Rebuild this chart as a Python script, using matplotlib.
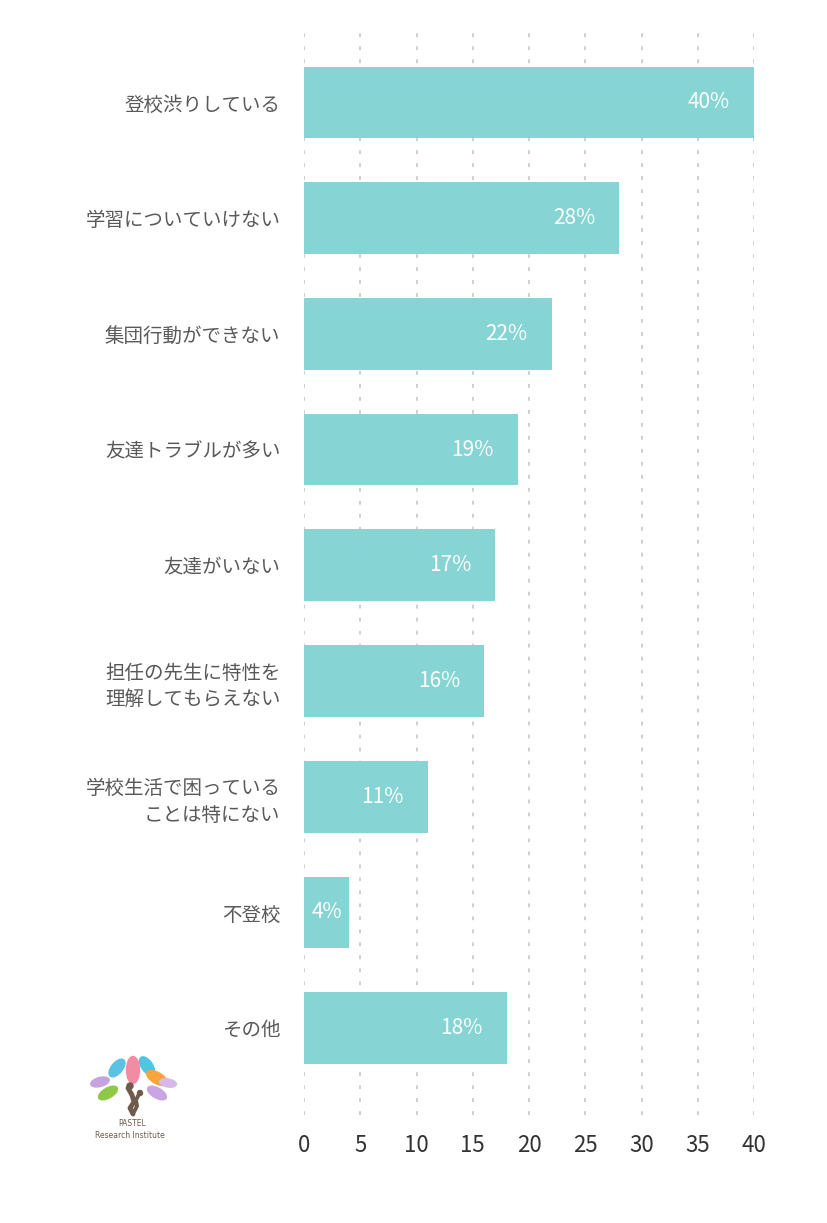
import matplotlib.pyplot as plt
from matplotlib.patches import Ellipse, Circle

plt.rcParams['font.family'] = ['Noto Sans CJK JP', 'DejaVu Sans']

# data
categories = ['登校渋りしている', '学習についていけない', '集団行動ができない',
              '友達トラブルが多い', '友達がいない', '担任の先生に特性を\n理解してもらえない',
              '学校生活で困っている\nことは特にない', '不登校', 'その他']
values = [40, 28, 22, 19, 17, 16, 11, 4, 18]
xticks = [0, 5, 10, 15, 20, 25, 30, 35, 40]

bar_color = '#86d4d4'
text_gray = '#595959'

fig = plt.figure(figsize=(8.28, 12.23), dpi=100)
ax = fig.add_axes([304/828, 1 - 1115/1223, 450/828, 1082/1223])

ypos = list(range(len(categories)))
ax.barh(ypos, values, height=0.62, color=bar_color, zorder=2)

for y, v in zip(ypos, values):
    xc = max(v - 4, v / 2)
    ax.text(xc, y, f'{v}%', ha='center', va='center', color='white',
            fontsize=15, zorder=3)

ax.set_xlim(0, 40)
ax.set_ylim(8.75, -0.6)
ax.set_xticks(xticks)
ax.set_xticklabels([str(t) for t in xticks], fontsize=16, color='#333333')
ax.set_yticks(ypos)
ax.set_yticklabels(categories, fontsize=14, color=text_gray, linespacing=1.35)
ax.tick_params(axis='both', length=0)
ax.tick_params(axis='x', pad=14)
ax.tick_params(axis='y', pad=17)
ax.grid(axis='x', color='#c2c2c2', linestyle=(0, (2.5, 6)), linewidth=1.1, zorder=1)
for s in ax.spines.values():
    s.set_visible(False)

# logo (PASTEL Research Institute)
lg = fig.add_axes([80/828, 1 - 1150/1223, 120/828, 110/1223])
lg.set_xlim(0, 120)
lg.set_ylim(110, 0)
lg.axis('off')
petals = [
    ((53, 30), 13, 27, 0, '#f28ca3'),
    ((37, 28), 11, 21, 40, '#5bc2e3'),
    ((67, 26), 11, 21, -35, '#4fc6e0'),
    ((77, 38), 11, 23, -60, '#f8a53e'),
    ((20, 42), 9, 19, 75, '#c7a3de'),
    ((28, 53), 10, 21, 60, '#8fc846'),
    ((77, 53), 10, 21, -60, '#c9a6e3'),
    ((88, 43), 8, 17, -80, '#d6b8ea'),
]
for (cx, cy), w, h, a, c in petals:
    lg.add_patch(Ellipse((cx, cy), w, h, angle=a, color=c))
brown = '#6e5b4c'
lg.plot([48, 52, 54, 50, 53], [48, 55, 62, 68, 74], color=brown, lw=3.5, solid_capstyle='round')
lg.plot([59, 56, 57, 54], [54, 60, 66, 72], color=brown, lw=2.8, solid_capstyle='round')
lg.add_patch(Circle((50, 46), 3, color=brown))
lg.add_patch(Circle((60, 53), 2.5, color=brown))
lg.text(52, 83, 'PASTEL', ha='center', va='center', fontsize=5.5, color=brown,
        family='DejaVu Sans')
lg.text(50, 96, 'Research Institute', ha='center', va='center', fontsize=5.5,
        color=brown, family='DejaVu Sans')

fig.savefig('out.png', dpi=100, facecolor='white')
